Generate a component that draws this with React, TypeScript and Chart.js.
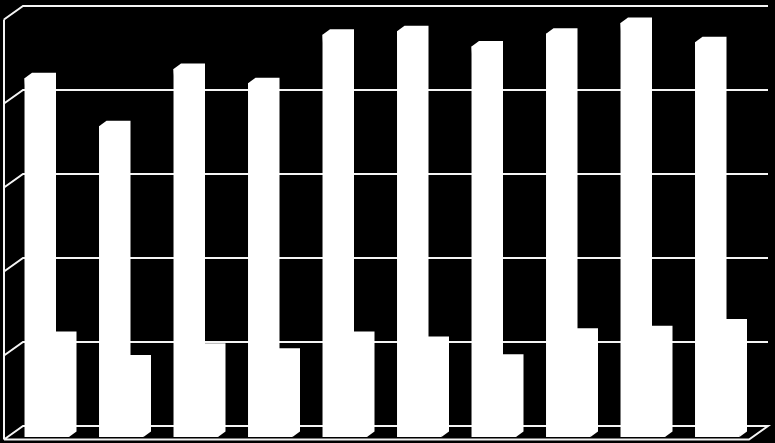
import React, { useEffect, useRef } from 'react';
import { Chart, registerables } from 'chart.js';

Chart.register(...registerables);

const categories = ['1', '2', '3', '4', '5', '6', '7', '8', '9', '10'];
const seriesA = [4.27, 3.7, 4.38, 4.21, 4.79, 4.83, 4.65, 4.8, 4.93, 4.7];
const seriesB = [1.19, 0.91, 1.05, 0.99, 1.19, 1.13, 0.92, 1.23, 1.26, 1.34];
const yTicks = [0, 1, 2, 3, 4, 5];

// 3D look: offsets from the bars' front plane to the other planes
const BAR_DEPTH = { x: 7.5, y: 5.5 };
const BACK_WALL = { x: 13.5, y: -11 };
const FRONT_EDGE = { x: -5.5, y: 2.5 };

const walls3d = {
  id: 'walls3d',
  beforeDatasetsDraw(chart: Chart) {
    const { ctx, chartArea, scales } = chart;
    const backLeft = chartArea.left + BACK_WALL.x;
    const backRight = chartArea.right + BACK_WALL.x;
    const frontLeft = chartArea.left + FRONT_EDGE.x;
    const frontRight = chartArea.right + FRONT_EDGE.x;
    const toFront = FRONT_EDGE.y - BACK_WALL.y;

    ctx.save();
    ctx.strokeStyle = '#f4f4f4';
    ctx.lineWidth = 2;
    yTicks.forEach((t) => {
      const y = scales.y.getPixelForValue(t) + BACK_WALL.y;
      ctx.beginPath();
      ctx.moveTo(frontLeft, y + toFront);
      ctx.lineTo(backLeft, y);
      ctx.lineTo(backRight, y);
      if (t === 0) {
        ctx.lineTo(frontRight, y + toFront);
        ctx.lineTo(frontLeft, y + toFront);
      }
      ctx.stroke();
    });
    // left wall edge
    ctx.beginPath();
    ctx.moveTo(frontLeft, scales.y.getPixelForValue(5) + FRONT_EDGE.y);
    ctx.lineTo(frontLeft, scales.y.getPixelForValue(0) + FRONT_EDGE.y);
    ctx.stroke();
    ctx.restore();
  },
  afterDatasetsDraw(chart: Chart) {
    const { ctx } = chart;
    ctx.save();
    ctx.fillStyle = '#ffffff';
    chart.data.datasets.forEach((_, i) => {
      chart.getDatasetMeta(i).data.forEach((el: any) => {
        const left = el.x - el.width / 2;
        const right = el.x + el.width / 2;
        // top and side faces of the bar
        ctx.beginPath();
        ctx.moveTo(left, el.y);
        ctx.lineTo(left + BAR_DEPTH.x, el.y - BAR_DEPTH.y);
        ctx.lineTo(right + BAR_DEPTH.x, el.y - BAR_DEPTH.y);
        ctx.lineTo(right + BAR_DEPTH.x, el.base - BAR_DEPTH.y);
        ctx.lineTo(right, el.base);
        ctx.closePath();
        ctx.fill();
      });
    });
    ctx.restore();
  },
};

export default function App() {
  const canvasRef = useRef<HTMLCanvasElement>(null);

  useEffect(() => {
    document.body.style.margin = '0';
    if (!canvasRef.current) return;

    const chart = new Chart(canvasRef.current, {
      type: 'bar',
      data: {
        labels: categories,
        datasets: [
          { label: 'A', data: seriesA, backgroundColor: '#ffffff', borderWidth: 0 },
          { label: 'B', data: seriesB, backgroundColor: '#ffffff', borderWidth: 0 },
        ],
      },
      options: {
        animation: false,
        responsive: false,
        devicePixelRatio: 1,
        categoryPercentage: 0.55,
        barPercentage: 1.17,
        layout: { padding: { left: 9.5, right: 20.5, top: 17, bottom: 6 } },
        plugins: { legend: { display: false }, title: { display: false }, tooltip: { enabled: false } },
        scales: {
          x: { display: false, offset: true },
          y: { display: false, min: 0, max: 5, ticks: { stepSize: 1 } },
        },
      },
      plugins: [walls3d],
    });

    return () => {
      chart.destroy();
    };
  }, []);

  return (
    <div style={{ width: 775, height: 443, background: '#000000' }}>
      <canvas ref={canvasRef} width={775} height={443} style={{ display: 'block' }}></canvas>
    </div>
  );
}
